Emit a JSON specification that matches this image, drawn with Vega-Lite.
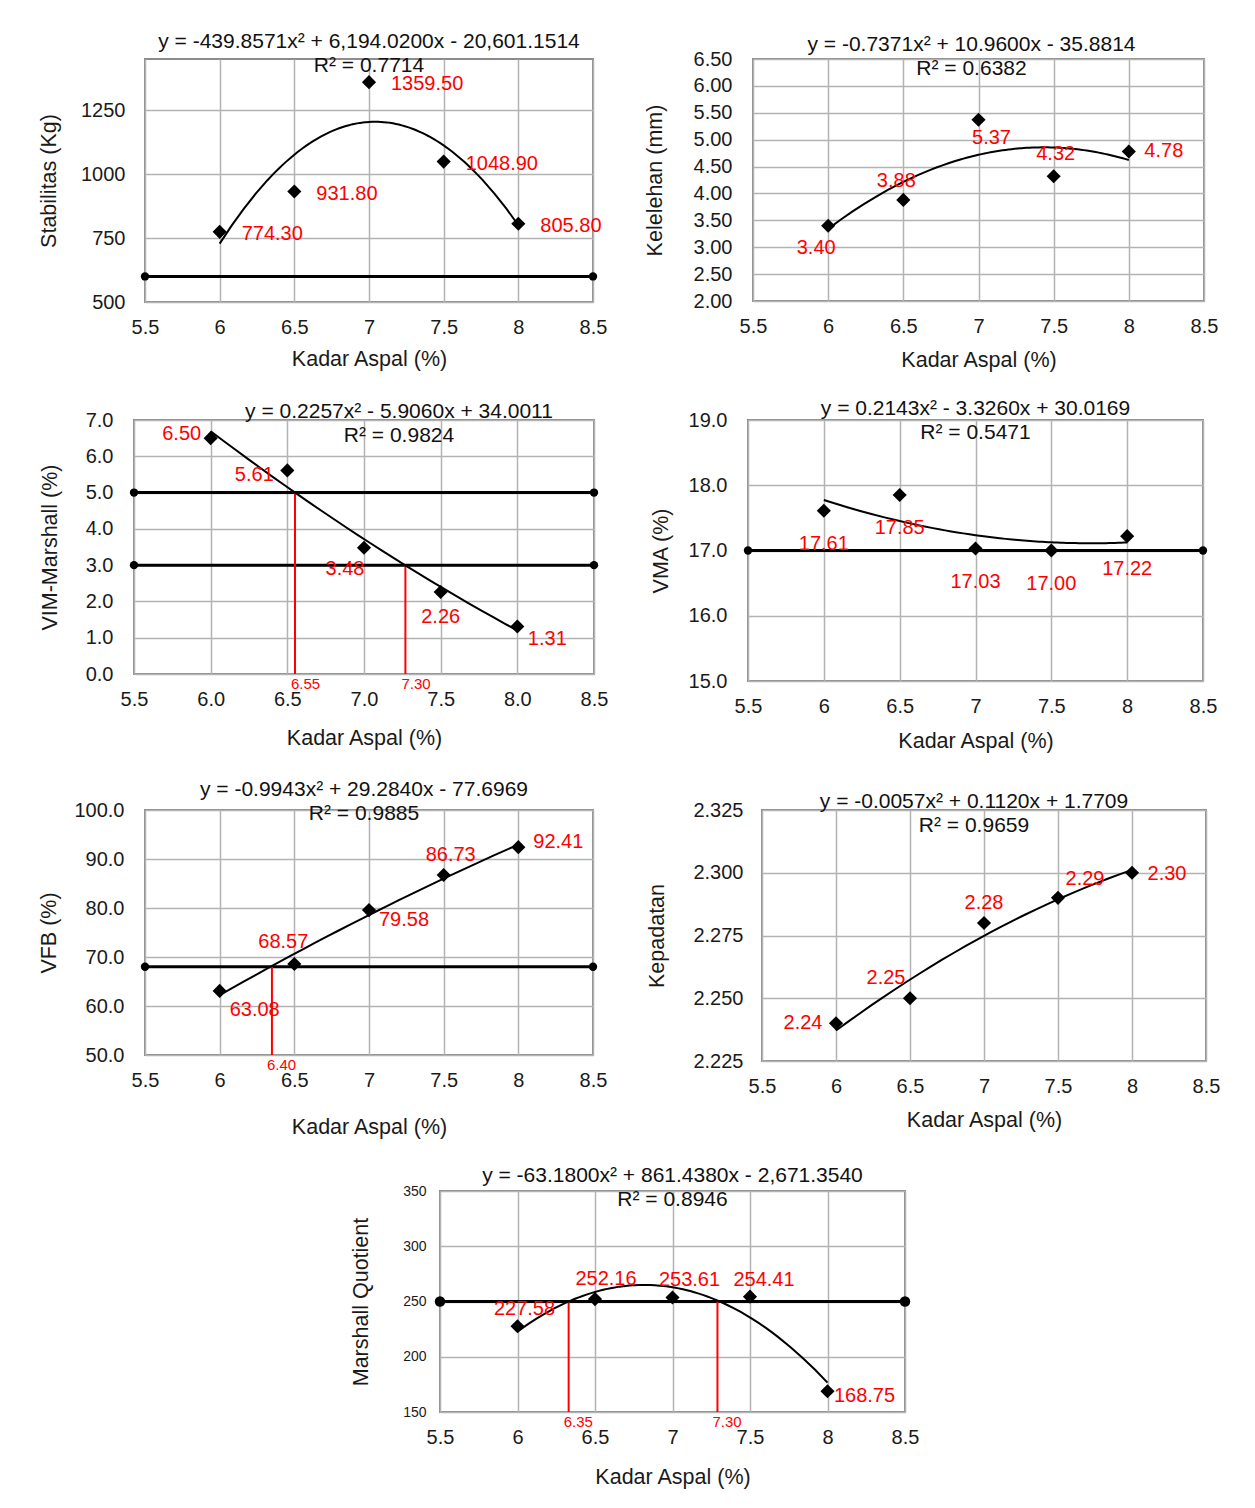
{
  "$schema": "https://vega.github.io/schema/vega-lite/v6.json",
  "padding": {"left": 37, "top": 30, "right": 5, "bottom": 5},
  "spacing": 25,
  "vconcat": [
    {
      "hconcat": [
        {"width": 1, "height": 1, "data": {"values": []}, "mark": {"type": "point"}, "view": {"fill": "white", "stroke": "transparent"}},
        {
          "hconcat": [
            {
              "width": 448, "height": 243,
              "title": {"text": "y = -439.8571x² + 6,194.0200x - 20,601.1514", "subtitle": "R² = 0.7714", "offset": -17},
              "data": {"values": [
                {"x": 6, "y": 774.3, "label": "774.30"},
                {"x": 6.5, "y": 931.8, "label": "931.80"},
                {"x": 7, "y": 1359.5, "label": "1359.50"},
                {"x": 7.5, "y": 1048.9, "label": "1048.90"},
                {"x": 8, "y": 805.8, "label": "805.80"}
              ]},
              "encoding": {
                "x": {"field": "x", "type": "quantitative", "scale": {"domain": [5.5, 8.5], "nice": false, "zero": false}, "axis": {"values": [5.5, 6, 6.5, 7, 7.5, 8, 8.5], "format": "~g", "title": "Kadar Aspal (%)", "titlePadding": 11}},
                "y": {"field": "y", "type": "quantitative", "scale": {"domain": [500, 1450], "nice": false, "zero": false}, "axis": {"values": [500, 750, 1000, 1250], "format": "d", "title": "Stabilitas (Kg)", "labelPadding": 20, "titlePadding": 20}}
              },
              "layer": [
                {"data": {"values": [{"x": 5.5, "y": 600}, {"x": 8.5, "y": 600}]}, "mark": {"type": "line", "color": "black", "strokeWidth": 3, "point": {"filled": true, "size": 70, "color": "black"}}},
                {"transform": [{"regression": "y", "on": "x", "method": "poly", "order": 2, "extent": [6, 8]}], "mark": {"type": "line", "color": "black", "strokeWidth": 2}},
                {"mark": {"type": "point", "shape": "diamond", "filled": true, "color": "black", "size": 200, "opacity": 1}},
                {"mark": {"type": "text", "color": "#ff0000", "fontSize": 20, "align": "left", "dx": 22, "dy": 2}, "encoding": {"text": {"field": "label"}}}
              ]
            },
            {
              "width": 451, "height": 242,
              "title": {"text": "y = -0.7371x² + 10.9600x - 35.8814", "subtitle": "R² = 0.6382", "offset": -30, "dx": -7},
              "data": {"values": [
                {"x": 6, "y": 3.40, "label": "3.40"},
                {"x": 6.5, "y": 3.88, "label": "3.88"},
                {"x": 7, "y": 5.37, "label": "5.37"},
                {"x": 7.5, "y": 4.32, "label": "4.32"},
                {"x": 8, "y": 4.78, "label": "4.78"}
              ]},
              "encoding": {
                "x": {"field": "x", "type": "quantitative", "scale": {"domain": [5.5, 8.5], "nice": false, "zero": false}, "axis": {"values": [5.5, 6, 6.5, 7, 7.5, 8, 8.5], "format": "~g", "title": "Kadar Aspal  (%)", "titlePadding": 13}},
                "y": {"field": "y", "type": "quantitative", "scale": {"domain": [2, 6.5], "nice": false, "zero": false}, "axis": {"values": [2, 2.5, 3, 3.5, 4, 4.5, 5, 5.5, 6, 6.5], "format": ".2f", "title": "Kelelehan (mm)", "labelPadding": 21, "titlePadding": 27}}
              },
              "layer": [
                {"transform": [{"regression": "y", "on": "x", "method": "poly", "order": 2, "extent": [6, 8]}], "mark": {"type": "line", "color": "black", "strokeWidth": 2}},
                {"mark": {"type": "point", "shape": "diamond", "filled": true, "color": "black", "size": 200, "opacity": 1}},
                {"transform": [{"filter": {"field": "x", "equal": 6}}], "mark": {"type": "text", "color": "#ff0000", "fontSize": 20, "dx": -12, "dy": 22}, "encoding": {"text": {"field": "label"}}},
                {"transform": [{"filter": {"field": "x", "equal": 6.5}}], "mark": {"type": "text", "color": "#ff0000", "fontSize": 20, "dx": -7, "dy": -19}, "encoding": {"text": {"field": "label"}}},
                {"transform": [{"filter": {"field": "x", "equal": 7}}], "mark": {"type": "text", "color": "#ff0000", "fontSize": 20, "dx": 13, "dy": 18}, "encoding": {"text": {"field": "label"}}},
                {"transform": [{"filter": {"field": "x", "equal": 7.5}}], "mark": {"type": "text", "color": "#ff0000", "fontSize": 20, "dx": 2, "dy": -22}, "encoding": {"text": {"field": "label"}}},
                {"transform": [{"filter": {"field": "x", "equal": 8}}], "mark": {"type": "text", "color": "#ff0000", "fontSize": 20, "dx": 35, "dy": 0}, "encoding": {"text": {"field": "label"}}}
              ]
            }
          ],
          "spacing": 160,
          "bounds": "flush"
        }
      ],
      "spacing": 10,
      "bounds": "flush"
    },
    {
      "hconcat": [
        {
          "width": 460, "height": 254,
          "title": {"text": "y = 0.2257x² - 5.9060x + 34.0011", "subtitle": "R² = 0.9824", "offset": -36, "dx": 35},
          "data": {"values": [
            {"x": 6, "y": 6.50, "label": "6.50"},
            {"x": 6.5, "y": 5.61, "label": "5.61"},
            {"x": 7, "y": 3.48, "label": "3.48"},
            {"x": 7.5, "y": 2.26, "label": "2.26"},
            {"x": 8, "y": 1.31, "label": "1.31"}
          ]},
          "encoding": {
            "x": {"field": "x", "type": "quantitative", "scale": {"domain": [5.5, 8.5], "nice": false, "zero": false}, "axis": {"values": [5.5, 6, 6.5, 7, 7.5, 8, 8.5], "format": ".1f", "title": "Kadar Aspal  (%)", "titlePadding": 18}},
            "y": {"field": "y", "type": "quantitative", "scale": {"domain": [0, 7], "nice": false, "zero": false}, "axis": {"values": [0, 1, 2, 3, 4, 5, 6, 7], "format": ".1f", "title": "VIM-Marshall (%)", "labelPadding": 21, "titlePadding": 24}}
          },
          "layer": [
            {"data": {"values": [{"x": 5.5, "y": 5, "g": "max"}, {"x": 8.5, "y": 5, "g": "max"}, {"x": 5.5, "y": 3, "g": "min"}, {"x": 8.5, "y": 3, "g": "min"}]}, "mark": {"type": "line", "color": "black", "strokeWidth": 3, "point": {"filled": true, "size": 70, "color": "black"}}, "encoding": {"detail": {"field": "g"}}},
            {"data": {"values": [{"x": 6.55, "y": 0, "y2": 5}, {"x": 7.27, "y": 0, "y2": 3}]}, "mark": {"type": "rule", "color": "#ff0000", "strokeWidth": 2}, "encoding": {"y2": {"field": "y2"}}},
            {"data": {"values": [{"x": 6.55, "y": 0, "label": "6.55"}, {"x": 7.27, "y": 0, "label": "7.30"}]}, "mark": {"type": "text", "color": "#ff0000", "fontSize": 15, "align": "left", "dx": -4, "dy": 10}, "encoding": {"text": {"field": "label"}}},
            {"transform": [{"regression": "y", "on": "x", "method": "poly", "order": 2, "extent": [6, 8]}], "mark": {"type": "line", "color": "black", "strokeWidth": 2}},
            {"mark": {"type": "point", "shape": "diamond", "filled": true, "color": "black", "size": 200, "opacity": 1}},
            {"transform": [{"filter": {"field": "x", "equal": 6}}], "mark": {"type": "text", "color": "#ff0000", "fontSize": 20, "dx": -29, "dy": -4}, "encoding": {"text": {"field": "label"}}},
            {"transform": [{"filter": {"field": "x", "equal": 6.5}}], "mark": {"type": "text", "color": "#ff0000", "fontSize": 20, "dx": -33, "dy": 5}, "encoding": {"text": {"field": "label"}}},
            {"transform": [{"filter": {"field": "x", "equal": 7}}], "mark": {"type": "text", "color": "#ff0000", "fontSize": 20, "dx": -19, "dy": 21}, "encoding": {"text": {"field": "label"}}},
            {"transform": [{"filter": {"field": "x", "equal": 7.5}}], "mark": {"type": "text", "color": "#ff0000", "fontSize": 20, "dx": 0, "dy": 25}, "encoding": {"text": {"field": "label"}}},
            {"transform": [{"filter": {"field": "x", "equal": 8}}], "mark": {"type": "text", "color": "#ff0000", "fontSize": 20, "dx": 30, "dy": 13}, "encoding": {"text": {"field": "label"}}}
          ]
        },
        {
          "width": 455, "height": 261,
          "title": {"text": "y = 0.2143x² - 3.3260x + 30.0169", "subtitle": "R² = 0.5471", "offset": -33},
          "data": {"values": [
            {"x": 6, "y": 17.61, "label": "17.61"},
            {"x": 6.5, "y": 17.85, "label": "17.85"},
            {"x": 7, "y": 17.03, "label": "17.03"},
            {"x": 7.5, "y": 17.00, "label": "17.00"},
            {"x": 8, "y": 17.22, "label": "17.22"}
          ]},
          "encoding": {
            "x": {"field": "x", "type": "quantitative", "scale": {"domain": [5.5, 8.5], "nice": false, "zero": false}, "axis": {"values": [5.5, 6, 6.5, 7, 7.5, 8, 8.5], "format": "~g", "title": "Kadar Aspal  (%)", "titlePadding": 14}},
            "y": {"field": "y", "type": "quantitative", "scale": {"domain": [15, 19], "nice": false, "zero": false}, "axis": {"values": [15, 16, 17, 18, 19], "format": ".1f", "title": "VMA (%)", "labelPadding": 21, "titlePadding": 16}}
          },
          "layer": [
            {"data": {"values": [{"x": 5.5, "y": 17}, {"x": 8.5, "y": 17}]}, "mark": {"type": "line", "color": "black", "strokeWidth": 3, "point": {"filled": true, "size": 70, "color": "black"}}},
            {"transform": [{"regression": "y", "on": "x", "method": "poly", "order": 2, "extent": [6, 8]}], "mark": {"type": "line", "color": "black", "strokeWidth": 2}},
            {"mark": {"type": "point", "shape": "diamond", "filled": true, "color": "black", "size": 200, "opacity": 1}},
            {"mark": {"type": "text", "color": "#ff0000", "fontSize": 20, "dx": 0, "dy": 33}, "encoding": {"text": {"field": "label"}}}
          ]
        }
      ],
      "spacing": 154,
      "bounds": "flush"
    },
    {
      "hconcat": [
        {"width": 1, "height": 1, "data": {"values": []}, "mark": {"type": "point"}, "view": {"fill": "white", "stroke": "transparent"}},
        {
          "hconcat": [
            {
              "width": 448, "height": 245,
              "title": {"text": "y = -0.9943x² + 29.2840x - 77.6969", "subtitle": "R² = 0.9885", "offset": -24, "dx": -5},
              "data": {"values": [
                {"x": 6, "y": 63.08, "label": "63.08"},
                {"x": 6.5, "y": 68.57, "label": "68.57"},
                {"x": 7, "y": 79.58, "label": "79.58"},
                {"x": 7.5, "y": 86.73, "label": "86.73"},
                {"x": 8, "y": 92.41, "label": "92.41"}
              ]},
              "encoding": {
                "x": {"field": "x", "type": "quantitative", "scale": {"domain": [5.5, 8.5], "nice": false, "zero": false}, "axis": {"values": [5.5, 6, 6.5, 7, 7.5, 8, 8.5], "format": "~g", "title": "Kadar Aspal  (%)", "titlePadding": 26}},
                "y": {"field": "y", "type": "quantitative", "scale": {"domain": [50, 100], "nice": false, "zero": false}, "axis": {"values": [50, 60, 70, 80, 90, 100], "format": ".1f", "title": "VFB (%)", "labelPadding": 21, "titlePadding": 13}}
              },
              "layer": [
                {"data": {"values": [{"x": 5.5, "y": 68}, {"x": 8.5, "y": 68}]}, "mark": {"type": "line", "color": "black", "strokeWidth": 3, "point": {"filled": true, "size": 70, "color": "black"}}},
                {"data": {"values": [{"x": 6.35, "y": 50, "y2": 68}]}, "mark": {"type": "rule", "color": "#ff0000", "strokeWidth": 2}, "encoding": {"y2": {"field": "y2"}}},
                {"data": {"values": [{"x": 6.35, "y": 50, "label": "6.40"}]}, "mark": {"type": "text", "color": "#ff0000", "fontSize": 15, "align": "left", "dx": -5, "dy": 10}, "encoding": {"text": {"field": "label"}}},
                {"transform": [{"regression": "y", "on": "x", "method": "poly", "order": 2, "extent": [6, 8]}], "mark": {"type": "line", "color": "black", "strokeWidth": 2}},
                {"mark": {"type": "point", "shape": "diamond", "filled": true, "color": "black", "size": 200, "opacity": 1}},
                {"transform": [{"filter": {"field": "x", "equal": 6}}], "mark": {"type": "text", "color": "#ff0000", "fontSize": 20, "dx": 35, "dy": 19}, "encoding": {"text": {"field": "label"}}},
                {"transform": [{"filter": {"field": "x", "equal": 6.5}}], "mark": {"type": "text", "color": "#ff0000", "fontSize": 20, "dx": -11, "dy": -22}, "encoding": {"text": {"field": "label"}}},
                {"transform": [{"filter": {"field": "x", "equal": 7}}], "mark": {"type": "text", "color": "#ff0000", "fontSize": 20, "dx": 35, "dy": 10}, "encoding": {"text": {"field": "label"}}},
                {"transform": [{"filter": {"field": "x", "equal": 7.5}}], "mark": {"type": "text", "color": "#ff0000", "fontSize": 20, "dx": 7, "dy": -20}, "encoding": {"text": {"field": "label"}}},
                {"transform": [{"filter": {"field": "x", "equal": 8}}], "mark": {"type": "text", "color": "#ff0000", "fontSize": 20, "dx": 40, "dy": -5}, "encoding": {"text": {"field": "label"}}}
              ]
            },
            {
              "width": 444, "height": 251,
              "title": {"text": "y = -0.0057x² + 0.1120x + 1.7709", "subtitle": "R² = 0.9659", "offset": -36, "dx": -10},
              "data": {"values": [
                {"x": 6, "y": 2.24, "label": "2.24"},
                {"x": 6.5, "y": 2.25, "label": "2.25"},
                {"x": 7, "y": 2.28, "label": "2.28"},
                {"x": 7.5, "y": 2.29, "label": "2.29"},
                {"x": 8, "y": 2.30, "label": "2.30"}
              ]},
              "encoding": {
                "x": {"field": "x", "type": "quantitative", "scale": {"domain": [5.5, 8.5], "nice": false, "zero": false}, "axis": {"values": [5.5, 6, 6.5, 7, 7.5, 8, 8.5], "format": "~g", "title": "Kadar Aspal  (%)", "titlePadding": 13}},
                "y": {"field": "y", "type": "quantitative", "scale": {"domain": [2.225, 2.325], "nice": false, "zero": false}, "axis": {"values": [2.225, 2.25, 2.275, 2.3, 2.325], "format": ".3f", "title": "Kepadatan", "labelPadding": 19, "titlePadding": 24}}
              },
              "layer": [
                {"transform": [{"regression": "y", "on": "x", "method": "poly", "order": 2, "extent": [6, 8]}], "mark": {"type": "line", "color": "black", "strokeWidth": 2}},
                {"mark": {"type": "point", "shape": "diamond", "filled": true, "color": "black", "size": 200, "opacity": 1}},
                {"transform": [{"filter": {"field": "x", "equal": 6}}], "mark": {"type": "text", "color": "#ff0000", "fontSize": 20, "dx": -33, "dy": 0}, "encoding": {"text": {"field": "label"}}},
                {"transform": [{"filter": {"field": "x", "equal": 6.5}}], "mark": {"type": "text", "color": "#ff0000", "fontSize": 20, "dx": -24, "dy": -20}, "encoding": {"text": {"field": "label"}}},
                {"transform": [{"filter": {"field": "x", "equal": 7}}], "mark": {"type": "text", "color": "#ff0000", "fontSize": 20, "dx": 0, "dy": -20}, "encoding": {"text": {"field": "label"}}},
                {"transform": [{"filter": {"field": "x", "equal": 7.5}}], "mark": {"type": "text", "color": "#ff0000", "fontSize": 20, "dx": 27, "dy": -19}, "encoding": {"text": {"field": "label"}}},
                {"transform": [{"filter": {"field": "x", "equal": 8}}], "mark": {"type": "text", "color": "#ff0000", "fontSize": 20, "dx": 35, "dy": 1}, "encoding": {"text": {"field": "label"}}}
              ]
            }
          ],
          "spacing": 169,
          "bounds": "flush"
        }
      ],
      "spacing": 10,
      "bounds": "flush"
    },
    {
      "hconcat": [
        {"width": 200, "height": 221, "data": {"values": []}, "mark": {"type": "point"}, "view": {"fill": "white", "stroke": "transparent"}},
        {
          "width": 465, "height": 221,
          "title": {"text": "y = -63.1800x² + 861.4380x - 2,671.3540", "subtitle": "R² = 0.8946", "offset": -26},
          "data": {"values": [
            {"x": 6, "y": 227.58, "label": "227.58"},
            {"x": 6.5, "y": 252.16, "label": "252.16"},
            {"x": 7, "y": 253.61, "label": "253.61"},
            {"x": 7.5, "y": 254.41, "label": "254.41"},
            {"x": 8, "y": 168.75, "label": "168.75"}
          ]},
          "encoding": {
            "x": {"field": "x", "type": "quantitative", "scale": {"domain": [5.5, 8.5], "nice": false, "zero": false}, "axis": {"values": [5.5, 6, 6.5, 7, 7.5, 8, 8.5], "format": "~g", "title": "Kadar Aspal  (%)", "titlePadding": 19}},
            "y": {"field": "y", "type": "quantitative", "scale": {"domain": [150, 350], "nice": false, "zero": false}, "axis": {"values": [150, 200, 250, 300, 350], "format": "d", "title": "Marshall Quotient", "labelFontSize": 14, "labelPadding": 14, "titlePadding": 30}}
          },
          "layer": [
            {"data": {"values": [{"x": 5.5, "y": 250}, {"x": 8.5, "y": 250}]}, "mark": {"type": "line", "color": "black", "strokeWidth": 3, "point": {"filled": true, "size": 110, "color": "black"}}},
            {"data": {"values": [{"x": 6.33, "y": 150, "y2": 250}, {"x": 7.29, "y": 150, "y2": 250}]}, "mark": {"type": "rule", "color": "#ff0000", "strokeWidth": 2}, "encoding": {"y2": {"field": "y2"}}},
            {"data": {"values": [{"x": 6.33, "y": 150, "label": "6.35"}, {"x": 7.29, "y": 150, "label": "7.30"}]}, "mark": {"type": "text", "color": "#ff0000", "fontSize": 15, "align": "left", "dx": -5, "dy": 10}, "encoding": {"text": {"field": "label"}}},
            {"transform": [{"regression": "y", "on": "x", "method": "poly", "order": 2, "extent": [6, 8]}], "mark": {"type": "line", "color": "black", "strokeWidth": 2}},
            {"mark": {"type": "point", "shape": "diamond", "filled": true, "color": "black", "size": 200, "opacity": 1}},
            {"transform": [{"filter": {"field": "x", "equal": 6}}], "mark": {"type": "text", "color": "#ff0000", "fontSize": 20, "dx": 7, "dy": -17}, "encoding": {"text": {"field": "label"}}},
            {"transform": [{"filter": {"field": "x", "equal": 6.5}}], "mark": {"type": "text", "color": "#ff0000", "fontSize": 20, "dx": 11, "dy": -20}, "encoding": {"text": {"field": "label"}}},
            {"transform": [{"filter": {"field": "x", "equal": 7}}], "mark": {"type": "text", "color": "#ff0000", "fontSize": 20, "dx": 17, "dy": -18}, "encoding": {"text": {"field": "label"}}},
            {"transform": [{"filter": {"field": "x", "equal": 7.5}}], "mark": {"type": "text", "color": "#ff0000", "fontSize": 20, "dx": 14, "dy": -17}, "encoding": {"text": {"field": "label"}}},
            {"transform": [{"filter": {"field": "x", "equal": 8}}], "mark": {"type": "text", "color": "#ff0000", "fontSize": 20, "dx": 37, "dy": 5}, "encoding": {"text": {"field": "label"}}}
          ]
        }
      ],
      "spacing": 106,
      "bounds": "flush"
    }
  ],
  "config": {
    "font": "Liberation Sans",
    "background": "white",
    "view": {"stroke": "#8c8c8c", "strokeWidth": 2},
    "title": {"font": "Liberation Sans", "fontSize": 21, "fontWeight": "normal", "color": "#111111", "subtitleFont": "Liberation Sans", "subtitleFontSize": 21, "subtitleColor": "#111111", "subtitlePadding": 3, "anchor": "middle", "frame": "group"},
    "text": {"font": "Liberation Sans", "baseline": "middle"},
    "axis": {
      "labelFont": "Liberation Sans", "labelFontSize": 20, "labelColor": "#1a1a1a",
      "titleFont": "Liberation Sans", "titleFontSize": 21.5, "titleFontWeight": "normal", "titleColor": "#1a1a1a",
      "ticks": false, "domain": false, "grid": true, "gridColor": "#b3b3b3", "gridWidth": 1.5,
      "labelOverlap": false, "labelFlush": false, "labelBound": false
    },
    "axisX": {"labelPadding": 15}
  }
}
